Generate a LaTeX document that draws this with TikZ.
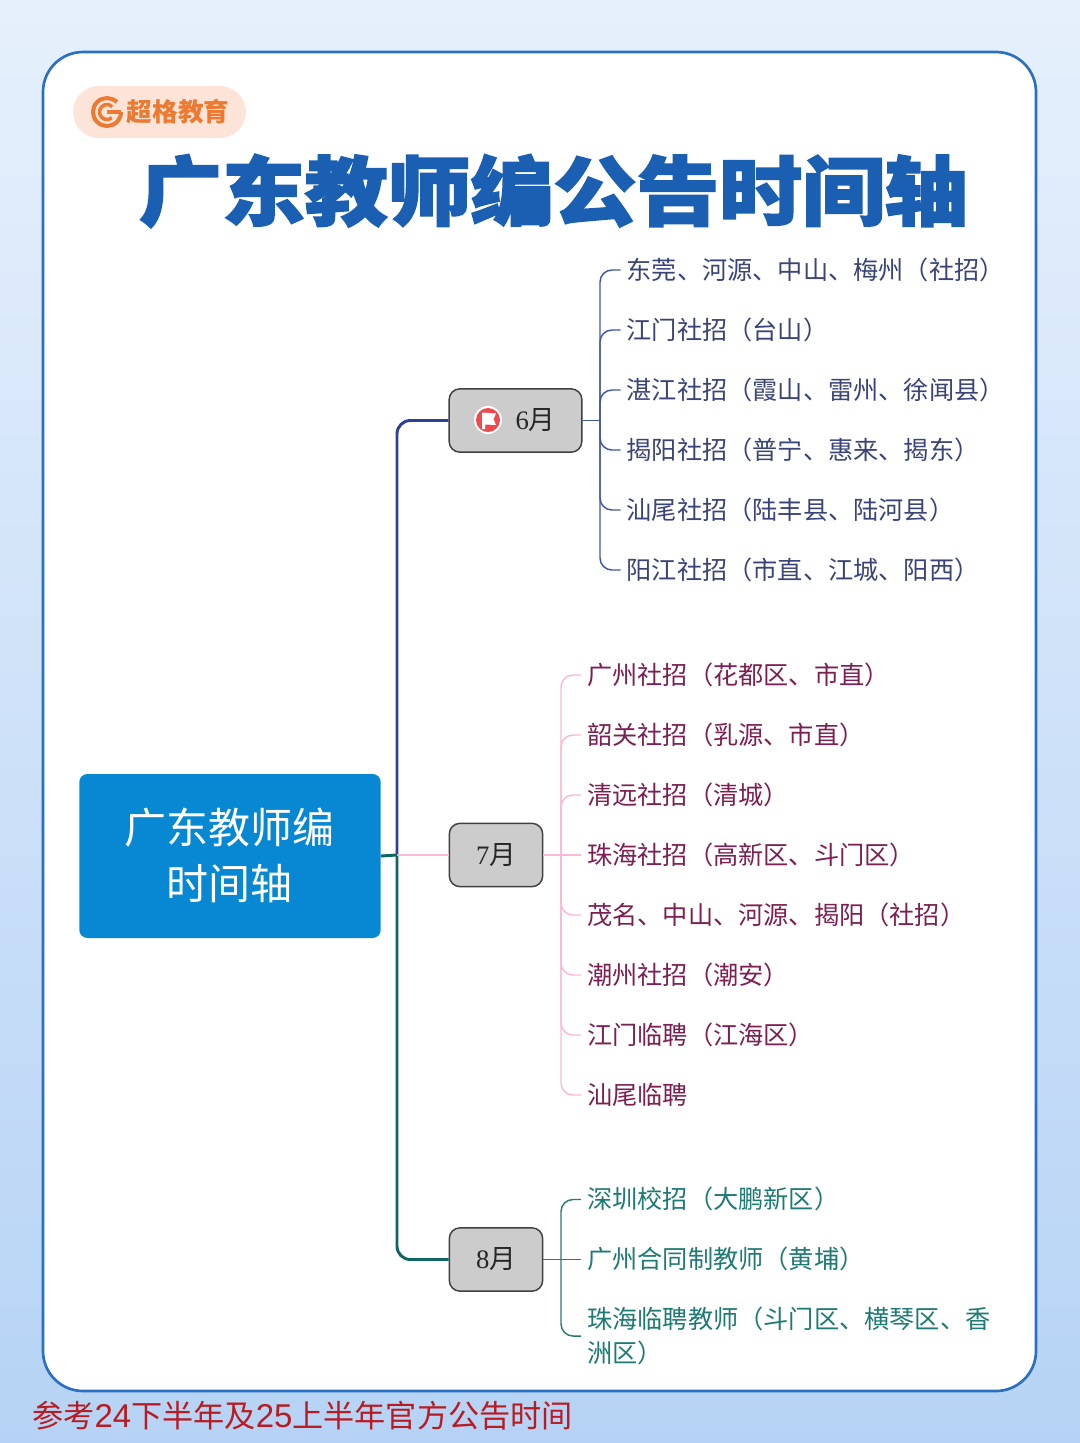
\documentclass[tikz,border=0pt]{standalone}
\usepackage{fontspec}
\usepackage{tikz}
\usetikzlibrary{positioning}
\setmainfont{Noto Sans CJK SC}
\newfontfamily\titlefont[BoldFeatures={FakeBold=2.5,FakeStretch=1.1}]{Noto Sans CJK SC}
\newfontfamily\digitfont{Liberation Serif}
\newfontfamily\notefont[Scale=1.06]{Liberation Sans}
\definecolor{bgtop}{HTML}{E6F0FC}
\definecolor{bgbot}{HTML}{B6D3F5}
\definecolor{cardline}{HTML}{2A6FC2}
\definecolor{titleblue}{HTML}{1A5FB2}
\definecolor{logoorange}{HTML}{EC7A32}
\definecolor{logobg}{HTML}{FDE4D8}
\definecolor{rootblue}{HTML}{0888D2}
\definecolor{flagred}{HTML}{EE4A50}
\definecolor{junline}{HTML}{2F3F95}
\definecolor{junleaf}{HTML}{3E57A8}
\definecolor{juntext}{HTML}{3A4478}
\definecolor{julline}{HTML}{F9B9D9}
\definecolor{jultext}{HTML}{7C1F52}
\definecolor{augline}{HTML}{0F6660}
\definecolor{augleaf}{HTML}{2A7A74}
\definecolor{augtext}{HTML}{1E7A72}
\definecolor{notered}{HTML}{B81C22}
\newcommand{\leaffont}{\fontsize{18.9}{25.5}\selectfont}
\begin{document}
\begin{tikzpicture}[x=0.75pt,y=-0.75pt,node distance=45pt,
  month/.style = {draw=black!75, fill=black!20, line width=1.1pt, rounded corners=8pt,
    minimum height=47.5pt, inner sep=0pt, text=black!85, font=\fontsize{20}{24}\selectfont},
  leaf/.style = {anchor=west, inner sep=4.5pt, text height=16.5pt, text depth=2.5pt, font=\leaffont},
  leafa/.style = {leaf, text=juntext},
  leafb/.style = {leaf, text=jultext},
  leafc/.style = {leaf, text=augtext},
  linea/.style = {draw=junleaf, line width=1.1pt, rounded corners=9pt},
  lineb/.style = {draw=julline, line width=1.1pt, rounded corners=9pt},
  linec/.style = {draw=augleaf, line width=1.1pt, rounded corners=9pt}]
\useasboundingbox (0,0) rectangle (1080,1443);
\shade[top color=bgtop, bottom color=bgbot] (0,0) rectangle (1080,1443);
\draw[cardline, fill=white, line width=2pt, rounded corners=30pt] (43,52) rectangle (1036,1391);

% logo
\fill[logobg, rounded corners=19.5pt] (73,86) rectangle (246,138);
\draw[logoorange, line width=3pt] (107,112) ++(-45:14) arc (-45:-360:14);
\draw[logoorange, line width=2.6pt] (107,112) ++(-45:7.5) arc (-45:-310:7.5);
\draw[logoorange, line width=2.6pt] (107,112) -- (121,112);
\node (logo) at (178,112) {\fontsize{19.2}{23}\selectfont\color{logoorange}\bfseries 超格教育};

\node (title) at (553.5,191) {\fontsize{56.5}{70}\selectfont\color{titleblue}\titlefont\bfseries 广东教师编公告时间轴};

% root and months
\node[fill=rootblue, rounded corners=6pt, minimum width=226pt, minimum height=123pt, inner sep=0pt,
  text=white, align=center, font=\fontsize{31.5}{42}\selectfont] (root) at (230,856) {\hspace{-1.5pt}广东教师编\\\hspace{-1.5pt}时间轴\rule[-3pt]{0pt}{1pt}};
\node[month, minimum width=99.5pt] (jun) at (515.5,420.5) {\hspace{30pt}{\digitfont 6}月};
\node[month, minimum width=70pt] (jul) at (496,855) {{\digitfont 7}月};
\node[month, minimum width=70pt] (aug) at (496,1259.5) {{\digitfont 8}月};

% flag
\node[circle, fill=white, minimum size=21pt, inner sep=0pt] (flagring) at (488,420) {};
\node[circle, fill=flagred, minimum size=18pt, inner sep=0pt] (flagdisc) at (488,420) {};
\fill[white] (482,412.5) -- (496,413.5) -- (493.5,419) -- (496,425) -- (485,424.5) -- (485,429) -- (482,429) -- cycle;

% june
\node (a1) [leafa] at (620.5,270) {东莞、河源、中山、梅州（社招）};
\node (a2) [below=of a1.west,leafa] {江门社招（台山）};
\node (a3) [below=of a2.west,leafa] {湛江社招（霞山、雷州、徐闻县）};
\node (a4) [below=of a3.west,leafa] {揭阳社招（普宁、惠来、揭东）};
\node (a5) [below=of a4.west,leafa] {汕尾社招（陆丰县、陆河县）};
\node (a6) [below=of a5.west,leafa] {阳江社招（市直、江城、阳西）};
\coordinate (ja) at (600,420.5);
\draw[linea] (jun.east) -- (ja);
\draw[linea] (ja) |- (a1.west);
\draw[linea] (ja) |- (a2.west);
\draw[linea] (ja) |- (a3.west);
\draw[linea] (ja) |- (a4.west);
\draw[linea] (ja) |- (a5.west);
\draw[linea] (ja) |- (a6.west);

% july
\node (b1) [leafb] at (581,675) {广州社招（花都区、市直）};
\node (b2) [below=of b1.west,leafb] {韶关社招（乳源、市直）};
\node (b3) [below=of b2.west,leafb] {清远社招（清城）};
\node (b4) [below=of b3.west,leafb] {珠海社招（高新区、斗门区）};
\node (b5) [below=of b4.west,leafb] {茂名、中山、河源、揭阳（社招）};
\node (b6) [below=of b5.west,leafb] {潮州社招（潮安）};
\node (b7) [below=of b6.west,leafb] {江门临聘（江海区）};
\node (b8) [below=of b7.west,leafb] {汕尾临聘};
\coordinate (jb) at (561,855);
\draw[lineb] (jul.east) -- (b4.west);
\draw[lineb] (jb) |- (b1.west);
\draw[lineb] (jb) |- (b2.west);
\draw[lineb] (jb) |- (b3.west);
\draw[lineb] (jb) |- (b5.west);
\draw[lineb] (jb) |- (b6.west);
\draw[lineb] (jb) |- (b7.west);
\draw[lineb] (jb) |- (b8.west);

% august
\node (c1) [leafc] at (581,1199.5) {深圳校招（大鹏新区）};
\node (c2) [below=of c1.west,leafc] {广州合同制教师（黄埔）};
\node (c3) [leafc, align=left, text height=, text depth=] at (581,1336) {珠海临聘教师（斗门区、横琴区、香\\洲区）};
\coordinate (jc) at (561,1259.5);
\draw[linec] (aug.east) -- (c2.west);
\draw[linec] (jc) |- (c1.west);
\draw[linec] (jc) |- (c3.west);

% trunk
\coordinate (tr) at (397,855);
\draw[junline, line width=2.2pt, rounded corners=10pt] (tr) |- (jun.west);
\draw[augline, line width=2.2pt, rounded corners=10pt] (tr) |- (aug.west);
\draw[julline, line width=2.2pt] (tr) -- (jul.west);
\draw[augline, line width=2.2pt] (root.east) -- (tr);

\node (note) at (302.5,1416) {\fontsize{23.35}{28}\selectfont\color{notered}参考{\notefont 24}下半年及{\notefont 25}上半年官方公告时间};
\end{tikzpicture}
\end{document}
